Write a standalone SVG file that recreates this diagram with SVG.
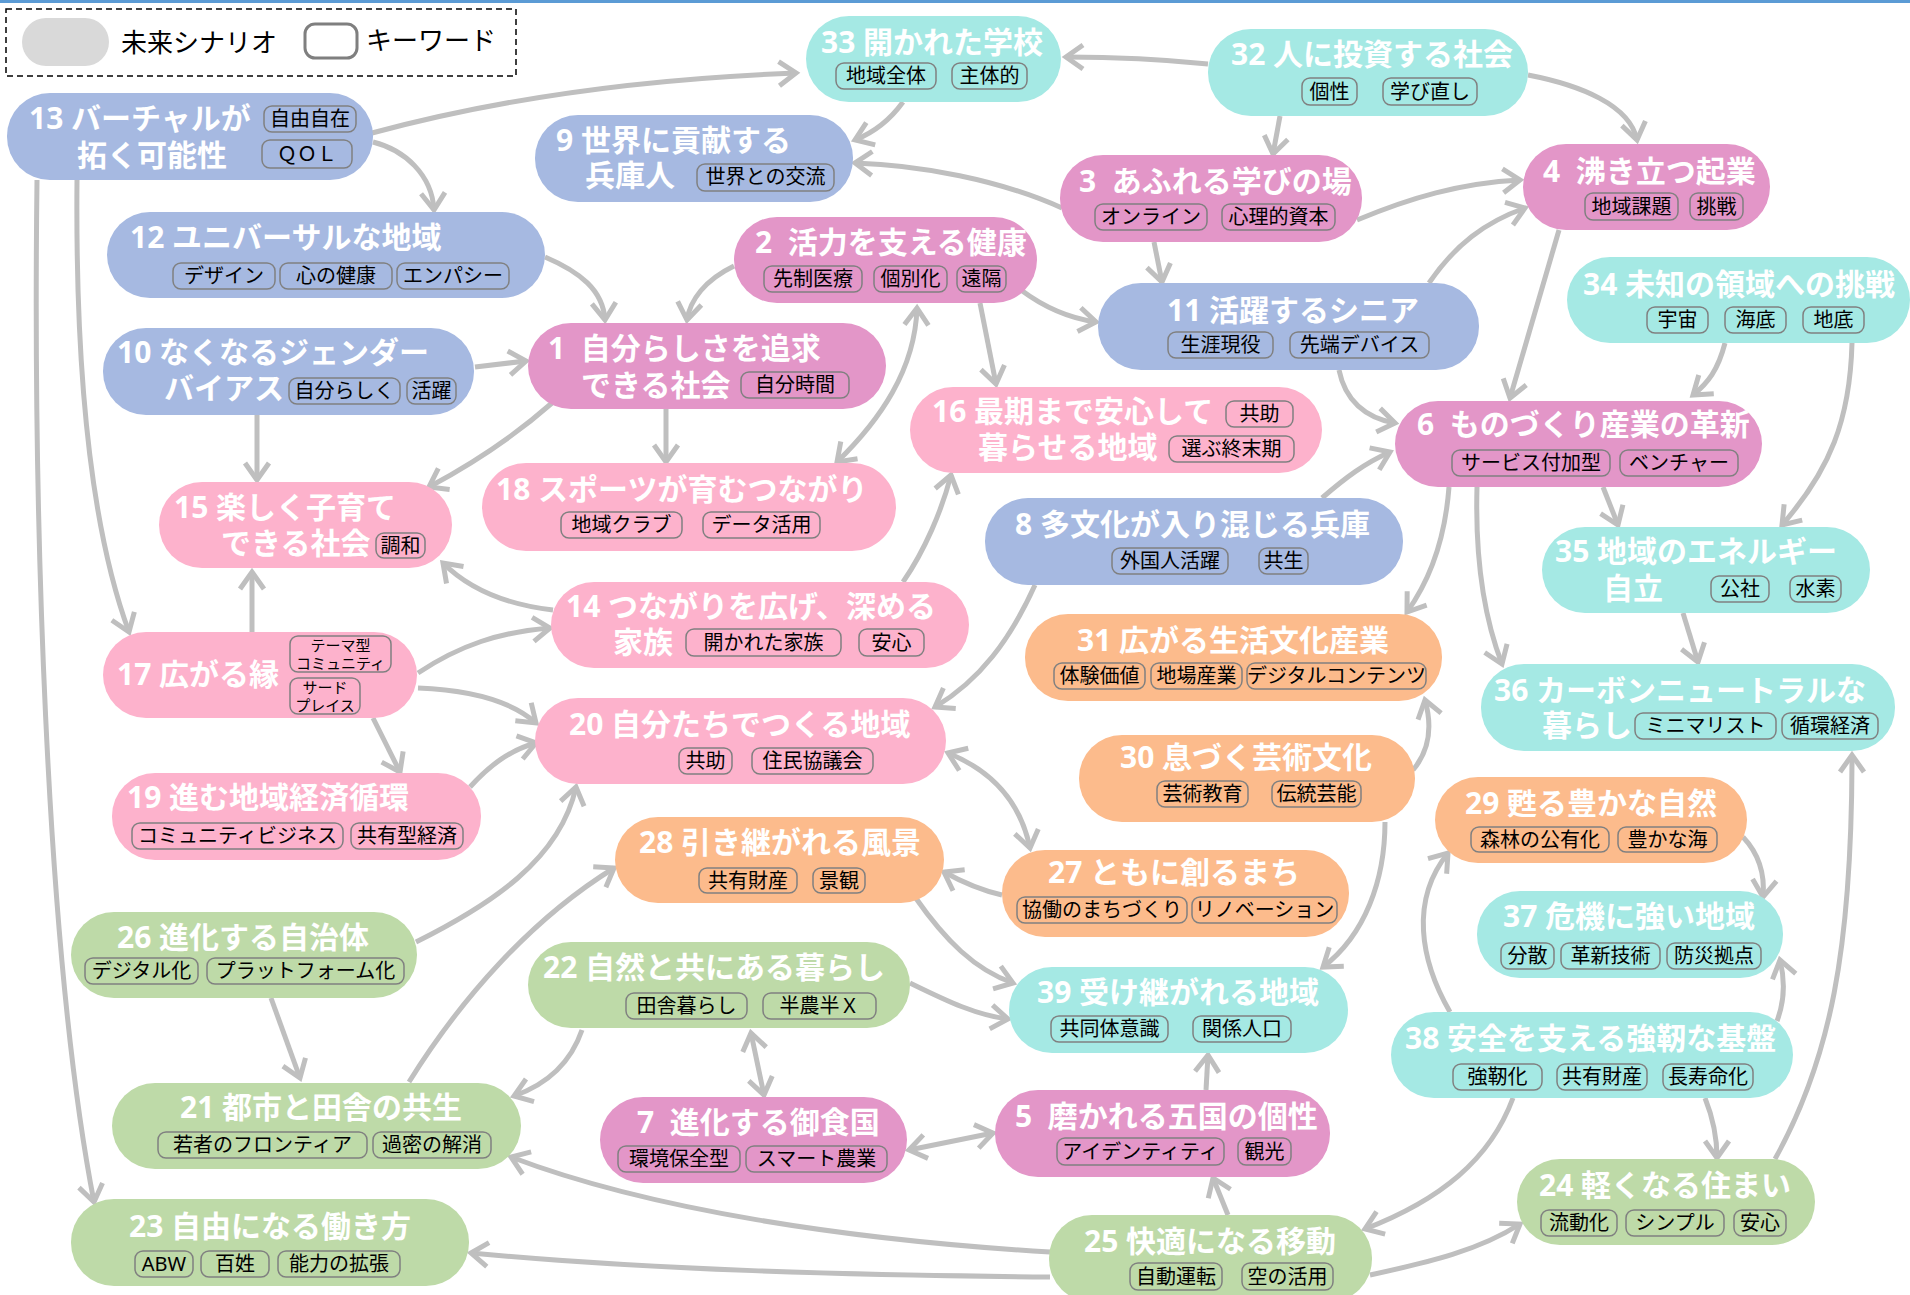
<svg xmlns="http://www.w3.org/2000/svg" width="1910" height="1295" viewBox="0 0 1910 1295">
<style>
.t{font-family:"Noto Sans","Noto Sans CJK JP",sans-serif;font-weight:700;font-size:30px;fill:#fff}
.k{font-family:"Noto Sans","Noto Sans CJK JP",sans-serif;font-size:20px;fill:#000;text-anchor:middle}
.ks{font-family:"Noto Sans","Noto Sans CJK JP",sans-serif;font-size:15px;fill:#000;text-anchor:middle}
.lg{font-family:"Noto Sans","Noto Sans CJK JP",sans-serif;font-size:26px;fill:#000}
.kb{fill:none;stroke:#808080;stroke-width:1.5}
.bl{fill:#a6b9e1}.mg{fill:#e396c8}.pk{fill:#fdb2cc}.or{fill:#fcbb8c}.tl{fill:#a5e9e4}.gr{fill:#bedaa8}
#connectors path{fill:none;stroke:#bfbfbf;stroke-width:5;marker-end:url(#ah)}
#connectors path.bi{marker-start:url(#ah)}
</style>
<defs>
<marker id="ah" viewBox="0 0 30 30" refX="25" refY="15" markerWidth="30" markerHeight="30" markerUnits="userSpaceOnUse" orient="auto-start-reverse" overflow="visible">
<path d="M8,3 L25,15 L8,27" fill="none" stroke="#bfbfbf" stroke-width="5"/>
</marker>
</defs>
<rect x="0" y="0" width="1910" height="1295" fill="#fff"/>
<rect x="0" y="0" width="1910" height="3" fill="#5b9bd5"/>
<g id="legend">
<rect x="6" y="9" width="510" height="67" fill="none" stroke="#000" stroke-width="1.5" stroke-dasharray="6 4"/>
<rect x="22" y="18" width="87" height="48" rx="24" fill="#d9d9d9"/>
<text x="121" y="52" class="lg">未来シナリオ</text>
<rect x="305" y="24" width="52" height="34" rx="10" fill="#fff" stroke="#7f7f7f" stroke-width="3"/>
<text x="366" y="50" class="lg">キーワード</text>
</g>
<g id="connectors">
<path d="M372,133 Q560,82 796,73"/>
<path d="M373,142 C405,150 432,175 434,210"/>
<path d="M77,180 C75,400 95,540 129,632"/>
<path d="M37,180 C33,500 45,950 94,1202"/>
<path d="M545,257 C580,272 603,290 605,320"/>
<path d="M475,367 L526,361"/>
<path d="M257,415 L257,480"/>
<path d="M552,403 C510,440 470,465 429,487"/>
<path d="M734,266 C705,280 690,300 687,320"/>
<path class="bi" d="M837,462 C880,420 915,370 917,308"/>
<path d="M980,303 L996,384"/>
<path d="M666,409 L666,462"/>
<path d="M903,102 C890,120 875,132 855,140"/>
<path d="M1062,208 C1000,180 920,165 855,163"/>
<path d="M1208,64 C1150,58 1110,57 1066,57"/>
<path d="M1280,116 L1273,154"/>
<path d="M1528,75 C1580,85 1630,105 1637,140"/>
<path d="M1154,242 L1162,282"/>
<path d="M1357,220 C1410,198 1460,183 1520,180"/>
<path d="M1429,283 C1455,245 1485,222 1525,208"/>
<path d="M1021,290 C1045,308 1068,318 1096,322"/>
<path d="M1339,370 C1345,400 1365,418 1395,423"/>
<path d="M1559,230 L1510,398"/>
<path d="M1725,343 C1718,370 1708,383 1693,395"/>
<path d="M1852,343 C1850,420 1830,470 1782,525"/>
<path d="M1603,487 L1618,525"/>
<path d="M1449,487 C1445,540 1430,580 1407,612"/>
<path d="M1477,487 C1475,560 1485,620 1502,664"/>
<path d="M1683,613 L1698,662"/>
<path d="M1775,1159 C1830,1060 1852,950 1852,755"/>
<path d="M1322,498 C1345,478 1365,463 1390,452"/>
<path d="M903,582 C925,550 942,510 951,475"/>
<path d="M1035,585 C1010,640 980,680 935,707"/>
<path class="bi" d="M948,753 C990,770 1020,800 1030,848"/>
<path d="M1413,770 C1430,750 1432,725 1425,700"/>
<path d="M1385,822 C1385,880 1365,935 1323,967"/>
<path d="M553,610 C510,605 470,590 443,563"/>
<path d="M252,632 L252,572"/>
<path d="M418,673 C460,645 500,632 550,628"/>
<path d="M418,688 C470,690 510,700 536,723"/>
<path d="M373,718 L400,772"/>
<path d="M470,787 C490,765 510,750 536,743"/>
<path d="M416,942 C490,905 560,860 576,787"/>
<path d="M271,998 L300,1078"/>
<path d="M409,1082 C460,1000 530,920 614,868"/>
<path d="M582,1030 C570,1065 545,1085 514,1096"/>
<path class="bi" d="M751,1033 L764,1095"/>
<path class="bi" d="M909,1150 L993,1133"/>
<path d="M915,897 C945,940 975,970 1013,983"/>
<path d="M910,983 C945,1000 975,1015 1008,1019"/>
<path d="M1002,895 C980,890 962,882 944,872"/>
<path d="M1206,1090 L1208,1055"/>
<path d="M1228,1215 L1213,1178"/>
<path d="M1050,1252 C850,1240 650,1210 511,1157"/>
<path d="M1050,1277 C850,1275 650,1270 471,1253"/>
<path d="M1513,1098 C1490,1160 1440,1200 1365,1229"/>
<path d="M1370,1275 C1430,1262 1480,1250 1520,1224"/>
<path d="M1450,1012 C1420,960 1410,900 1448,853"/>
<path d="M1743,837 C1760,855 1765,875 1763,897"/>
<path d="M1777,1021 C1785,1000 1785,980 1780,960"/>
<path d="M1705,1098 C1713,1118 1717,1135 1717,1158"/>
</g>

<g id="n13"><rect class="bl" x="7" y="93" width="366" height="87" rx="43"/><text class="t" x="29" y="129">13 バーチャルが</text><text class="t" x="77" y="166">拓く可能性</text>
<rect class="kb" x="264" y="106" width="92" height="26" rx="8"/><text class="k" x="310" y="126">自由自在</text>
<rect class="kb" x="262" y="140" width="90" height="28" rx="8"/><text class="k" x="307" y="161">ＱＯＬ</text></g>

<g id="n12"><rect class="bl" x="107" y="212" width="438" height="86" rx="43"/><text class="t" x="130" y="248">12 ユニバーサルな地域</text>
<rect class="kb" x="173" y="263" width="102" height="26" rx="8"/><text class="k" x="224" y="283">デザイン</text>
<rect class="kb" x="280" y="263" width="112" height="26" rx="8"/><text class="k" x="336" y="283">心の健康</text>
<rect class="kb" x="397" y="263" width="112" height="26" rx="8"/><text class="k" x="453" y="283">エンパシー</text></g>

<g id="n10"><rect class="bl" x="103" y="328" width="371" height="87" rx="43"/><text class="t" x="117" y="363">10 なくなるジェンダー</text><text class="t" x="164" y="399">バイアス</text>
<rect class="kb" x="289" y="378" width="111" height="26" rx="8"/><text class="k" x="344.5" y="398">自分らしく</text>
<rect class="kb" x="407" y="378" width="49" height="26" rx="8"/><text class="k" x="431.5" y="398">活躍</text></g>

<g id="n9"><rect class="bl" x="535" y="115" width="318" height="87" rx="43"/><text class="t" x="556" y="151">9 世界に貢献する</text><text class="t" x="585" y="186">兵庫人</text>
<rect class="kb" x="697" y="164" width="137" height="27" rx="8"/><text class="k" x="765.5" y="184">世界との交流</text></g>

<g id="n11"><rect class="bl" x="1098" y="283" width="381" height="87" rx="43"/><text class="t" x="1167" y="321">11 活躍するシニア</text>
<rect class="kb" x="1168" y="332" width="105" height="26" rx="8"/><text class="k" x="1220.5" y="352">生涯現役</text>
<rect class="kb" x="1290" y="332" width="139" height="26" rx="8"/><text class="k" x="1359.5" y="352">先端デバイス</text></g>

<g id="n8"><rect class="bl" x="985" y="498" width="418" height="87" rx="43"/><text class="t" x="1015" y="535">8 多文化が入り混じる兵庫</text>
<rect class="kb" x="1112" y="548" width="116" height="26" rx="8"/><text class="k" x="1170" y="568">外国人活躍</text>
<rect class="kb" x="1259" y="548" width="49" height="26" rx="8"/><text class="k" x="1283.5" y="568">共生</text></g>

<g id="n1"><rect class="mg" x="528" y="323" width="358" height="86" rx="43"/><text class="t" x="548" y="359" xml:space="preserve">1  自分らしさを追求</text><text class="t" x="581" y="396">できる社会</text>
<rect class="kb" x="741" y="372" width="108" height="26" rx="8"/><text class="k" x="795" y="392">自分時間</text></g>

<g id="n2"><rect class="mg" x="734" y="217" width="303" height="86" rx="43"/><text class="t" x="755" y="253" xml:space="preserve">2  活力を支える健康</text>
<rect class="kb" x="764" y="266" width="98" height="26" rx="8"/><text class="k" x="813" y="286">先制医療</text>
<rect class="kb" x="874" y="266" width="73" height="26" rx="8"/><text class="k" x="910.5" y="286">個別化</text>
<rect class="kb" x="957" y="266" width="49" height="26" rx="8"/><text class="k" x="981.5" y="286">遠隔</text></g>

<g id="n3"><rect class="mg" x="1060" y="155" width="302" height="87" rx="43"/><text class="t" x="1079" y="192" xml:space="preserve">3  あふれる学びの場</text>
<rect class="kb" x="1095" y="204" width="112" height="26" rx="8"/><text class="k" x="1151" y="224">オンライン</text>
<rect class="kb" x="1222" y="204" width="113" height="26" rx="8"/><text class="k" x="1278.5" y="224">心理的資本</text></g>

<g id="n4"><rect class="mg" x="1523" y="144" width="247" height="86" rx="43"/><text class="t" x="1543" y="182" xml:space="preserve">4  沸き立つ起業</text>
<rect class="kb" x="1585" y="193" width="93" height="27" rx="8"/><text class="k" x="1631.5" y="213.5">地域課題</text>
<rect class="kb" x="1690" y="193" width="53" height="27" rx="8"/><text class="k" x="1716.5" y="213.5">挑戦</text></g>

<g id="n6"><rect class="mg" x="1395" y="401" width="367" height="86" rx="43"/><text class="t" x="1417" y="435" xml:space="preserve">6  ものづくり産業の革新</text>
<rect class="kb" x="1452" y="450" width="158" height="26" rx="8"/><text class="k" x="1531" y="470">サービス付加型</text>
<rect class="kb" x="1620" y="450" width="118" height="26" rx="8"/><text class="k" x="1679" y="470">ベンチャー</text></g>

<g id="n5"><rect class="mg" x="995" y="1090" width="335" height="87" rx="43"/><text class="t" x="1015" y="1127" xml:space="preserve">5  磨かれる五国の個性</text>
<rect class="kb" x="1057" y="1138" width="167" height="27" rx="8"/><text class="k" x="1140.5" y="1158.5">アイデンティティ</text>
<rect class="kb" x="1238" y="1138" width="53" height="27" rx="8"/><text class="k" x="1264.5" y="1158.5">観光</text></g>

<g id="n7"><rect class="mg" x="600" y="1097" width="307" height="86" rx="43"/><text class="t" x="637" y="1133" xml:space="preserve">7  進化する御食国</text>
<rect class="kb" x="618" y="1146" width="122" height="26" rx="8"/><text class="k" x="679" y="1166">環境保全型</text>
<rect class="kb" x="746" y="1146" width="141" height="26" rx="8"/><text class="k" x="816.5" y="1166">スマート農業</text></g>

<g id="n15"><rect class="pk" x="159" y="482" width="293" height="86" rx="43"/><text class="t" x="174" y="518">15 楽しく子育て</text><text class="t" x="221" y="554">できる社会</text>
<rect class="kb" x="376" y="533" width="49" height="25" rx="8"/><text class="k" x="400.5" y="552.5">調和</text></g>

<g id="n17"><rect class="pk" x="103" y="632" width="314" height="86" rx="43"/><text class="t" x="117" y="685">17 広がる縁</text>
<rect class="kb" x="290" y="636" width="101" height="36" rx="8"/><text class="ks" x="340.5" y="651">テーマ型</text><text class="ks" x="340.5" y="669">コミュニティ</text>
<rect class="kb" x="290" y="678" width="70" height="36" rx="8"/><text class="ks" x="325" y="693">サード</text><text class="ks" x="325" y="711">プレイス</text></g>

<g id="n18"><rect class="pk" x="482" y="463" width="414" height="88" rx="44"/><text class="t" x="496" y="500">18 スポーツが育むつながり</text>
<rect class="kb" x="561" y="512" width="121" height="26" rx="8"/><text class="k" x="621.5" y="532">地域クラブ</text>
<rect class="kb" x="703" y="512" width="117" height="26" rx="8"/><text class="k" x="761.5" y="532">データ活用</text></g>

<g id="n14"><rect class="pk" x="551" y="582" width="418" height="86" rx="43"/><text class="t" x="566" y="617">14 つながりを広げ、深める</text><text class="t" x="613" y="653">家族</text>
<rect class="kb" x="686" y="629" width="155" height="27" rx="8"/><text class="k" x="763.5" y="649.5">開かれた家族</text>
<rect class="kb" x="859" y="629" width="65" height="27" rx="8"/><text class="k" x="891.5" y="649.5">安心</text></g>

<g id="n20"><rect class="pk" x="535" y="698" width="411" height="86" rx="43"/><text class="t" x="569" y="735">20 自分たちでつくる地域</text>
<rect class="kb" x="679" y="748" width="53" height="26" rx="8"/><text class="k" x="705.5" y="768">共助</text>
<rect class="kb" x="752" y="748" width="121" height="26" rx="8"/><text class="k" x="812.5" y="768">住民協議会</text></g>

<g id="n16"><rect class="pk" x="910" y="387" width="412" height="86" rx="43"/><text class="t" x="932" y="422">16 最期まで安心して</text><text class="t" x="978" y="458">暮らせる地域</text>
<rect class="kb" x="1226" y="401" width="67" height="26" rx="8"/><text class="k" x="1259.5" y="421">共助</text>
<rect class="kb" x="1169" y="436" width="125" height="26" rx="8"/><text class="k" x="1231.5" y="456">選ぶ終末期</text></g>

<g id="n19"><rect class="pk" x="112" y="773" width="369" height="87" rx="43"/><text class="t" x="127" y="808">19 進む地域経済循環</text>
<rect class="kb" x="132" y="823" width="211" height="26" rx="8"/><text class="k" x="237.5" y="843">コミュニティビジネス</text>
<rect class="kb" x="351" y="823" width="112" height="26" rx="8"/><text class="k" x="407" y="843">共有型経済</text></g>

<g id="n31"><rect class="or" x="1025" y="614" width="417" height="87" rx="43"/><text class="t" x="1077" y="651">31 広がる生活文化産業</text>
<rect class="kb" x="1054" y="663" width="91" height="26" rx="8"/><text class="k" x="1099.5" y="683">体験価値</text>
<rect class="kb" x="1151" y="663" width="91" height="26" rx="8"/><text class="k" x="1196.5" y="683">地場産業</text>
<rect class="kb" x="1247" y="663" width="179" height="26" rx="8"/><text class="k" x="1336.5" y="683">デジタルコンテンツ</text></g>

<g id="n30"><rect class="or" x="1079" y="735" width="336" height="87" rx="43"/><text class="t" x="1120" y="768">30 息づく芸術文化</text>
<rect class="kb" x="1157" y="781" width="91" height="26" rx="8"/><text class="k" x="1202.5" y="801">芸術教育</text>
<rect class="kb" x="1272" y="781" width="89" height="26" rx="8"/><text class="k" x="1316.5" y="801">伝統芸能</text></g>

<g id="n28"><rect class="or" x="615" y="817" width="329" height="86" rx="43"/><text class="t" x="639" y="853">28 引き継がれる風景</text>
<rect class="kb" x="699" y="868" width="98" height="25" rx="8"/><text class="k" x="748" y="887.5">共有財産</text>
<rect class="kb" x="813" y="868" width="52" height="25" rx="8"/><text class="k" x="839" y="887.5">景観</text></g>

<g id="n27"><rect class="or" x="1002" y="850" width="347" height="87" rx="43"/><text class="t" x="1048" y="883">27 ともに創るまち</text>
<rect class="kb" x="1017" y="897" width="170" height="26" rx="8"/><text class="k" x="1102" y="917">協働のまちづくり</text>
<rect class="kb" x="1192" y="897" width="145" height="26" rx="8"/><text class="k" x="1264.5" y="917">リノベーション</text></g>

<g id="n29"><rect class="or" x="1435" y="777" width="312" height="86" rx="43"/><text class="t" x="1465" y="814">29 甦る豊かな自然</text>
<rect class="kb" x="1471" y="827" width="138" height="25" rx="8"/><text class="k" x="1540" y="846.5">森林の公有化</text>
<rect class="kb" x="1618" y="827" width="99" height="25" rx="8"/><text class="k" x="1667.5" y="846.5">豊かな海</text></g>

<g id="n33"><rect class="tl" x="806" y="16" width="255" height="86" rx="43"/><text class="t" x="821" y="53">33 開かれた学校</text>
<rect class="kb" x="836" y="63" width="100" height="26" rx="8"/><text class="k" x="886" y="83">地域全体</text>
<rect class="kb" x="952" y="63" width="75" height="26" rx="8"/><text class="k" x="989.5" y="83">主体的</text></g>

<g id="n32"><rect class="tl" x="1208" y="29" width="320" height="87" rx="43"/><text class="t" x="1231" y="65">32 人に投資する社会</text>
<rect class="kb" x="1302" y="78" width="55" height="27" rx="8"/><text class="k" x="1329.5" y="98.5">個性</text>
<rect class="kb" x="1383" y="78" width="94" height="27" rx="8"/><text class="k" x="1430" y="98.5">学び直し</text></g>

<g id="n34"><rect class="tl" x="1567" y="257" width="343" height="86" rx="43"/><text class="t" x="1583" y="295">34 未知の領域への挑戦</text>
<rect class="kb" x="1647" y="307" width="61" height="26" rx="8"/><text class="k" x="1677.5" y="327">宇宙</text>
<rect class="kb" x="1725" y="307" width="61" height="26" rx="8"/><text class="k" x="1755.5" y="327">海底</text>
<rect class="kb" x="1803" y="307" width="61" height="26" rx="8"/><text class="k" x="1833.5" y="327">地底</text></g>

<g id="n35"><rect class="tl" x="1542" y="527" width="328" height="86" rx="43"/><text class="t" x="1555" y="562">35 地域のエネルギー</text><text class="t" x="1603" y="599">自立</text>
<rect class="kb" x="1711" y="576" width="58" height="26" rx="8"/><text class="k" x="1740" y="596">公社</text>
<rect class="kb" x="1790" y="576" width="51" height="26" rx="8"/><text class="k" x="1815.5" y="596">水素</text></g>

<g id="n36"><rect class="tl" x="1481" y="664" width="414" height="87" rx="43"/><text class="t" x="1494" y="701">36 カーボンニュートラルな</text><text class="t" x="1542" y="736">暮らし</text>
<rect class="kb" x="1635" y="713" width="141" height="26" rx="8"/><text class="k" x="1705.5" y="733">ミニマリスト</text>
<rect class="kb" x="1782" y="713" width="96" height="26" rx="8"/><text class="k" x="1830" y="733">循環経済</text></g>

<g id="n39"><rect class="tl" x="1009" y="967" width="339" height="86" rx="43"/><text class="t" x="1037" y="1003">39 受け継がれる地域</text>
<rect class="kb" x="1051" y="1016" width="117" height="26" rx="8"/><text class="k" x="1109.5" y="1036">共同体意識</text>
<rect class="kb" x="1193" y="1016" width="98" height="26" rx="8"/><text class="k" x="1242" y="1036">関係人口</text></g>

<g id="n37"><rect class="tl" x="1477" y="891" width="306" height="87" rx="43"/><text class="t" x="1503" y="927">37 危機に強い地域</text>
<rect class="kb" x="1501" y="943" width="53" height="26" rx="8"/><text class="k" x="1527.5" y="963">分散</text>
<rect class="kb" x="1561" y="943" width="99" height="26" rx="8"/><text class="k" x="1610.5" y="963">革新技術</text>
<rect class="kb" x="1667" y="943" width="94" height="26" rx="8"/><text class="k" x="1714" y="963">防災拠点</text></g>

<g id="n38"><rect class="tl" x="1391" y="1012" width="402" height="86" rx="43"/><text class="t" x="1405" y="1049">38 安全を支える強靭な基盤</text>
<rect class="kb" x="1453" y="1064" width="89" height="26" rx="8"/><text class="k" x="1497.5" y="1084">強靭化</text>
<rect class="kb" x="1557" y="1064" width="90" height="26" rx="8"/><text class="k" x="1602" y="1084">共有財産</text>
<rect class="kb" x="1663" y="1064" width="90" height="26" rx="8"/><text class="k" x="1708" y="1084">長寿命化</text></g>

<g id="n26"><rect class="gr" x="71" y="912" width="346" height="86" rx="43"/><text class="t" x="117" y="948">26 進化する自治体</text>
<rect class="kb" x="85" y="958" width="113" height="26" rx="8"/><text class="k" x="141.5" y="978">デジタル化</text>
<rect class="kb" x="207" y="958" width="197" height="26" rx="8"/><text class="k" x="305.5" y="978">プラットフォーム化</text></g>

<g id="n21"><rect class="gr" x="112" y="1083" width="409" height="86" rx="43"/><text class="t" x="180" y="1118">21 都市と田舎の共生</text>
<rect class="kb" x="158" y="1132" width="209" height="26" rx="8"/><text class="k" x="262.5" y="1152">若者のフロンティア</text>
<rect class="kb" x="373" y="1132" width="118" height="26" rx="8"/><text class="k" x="432" y="1152">過密の解消</text></g>

<g id="n23"><rect class="gr" x="71" y="1199" width="398" height="87" rx="43"/><text class="t" x="129" y="1237">23 自由になる働き方</text>
<rect class="kb" x="135" y="1251" width="58" height="26" rx="8"/><text class="k" x="164" y="1271">ABW</text>
<rect class="kb" x="201" y="1251" width="68" height="26" rx="8"/><text class="k" x="235" y="1271">百姓</text>
<rect class="kb" x="278" y="1251" width="122" height="26" rx="8"/><text class="k" x="339" y="1271">能力の拡張</text></g>

<g id="n22"><rect class="gr" x="528" y="942" width="382" height="86" rx="43"/><text class="t" x="543" y="978">22 自然と共にある暮らし</text>
<rect class="kb" x="626" y="993" width="121" height="26" rx="8"/><text class="k" x="686.5" y="1013">田舎暮らし</text>
<rect class="kb" x="763" y="993" width="113" height="26" rx="8"/><text class="k" x="819.5" y="1013">半農半Ｘ</text></g>

<g id="n25"><rect class="gr" x="1049" y="1215" width="323" height="87" rx="43"/><text class="t" x="1084" y="1252">25 快適になる移動</text>
<rect class="kb" x="1130" y="1263" width="92" height="27" rx="8"/><text class="k" x="1176" y="1283.5">自動運転</text>
<rect class="kb" x="1242" y="1263" width="91" height="27" rx="8"/><text class="k" x="1287.5" y="1283.5">空の活用</text></g>

<g id="n24"><rect class="gr" x="1517" y="1159" width="298" height="86" rx="43"/><text class="t" x="1539" y="1196">24 軽くなる住まい</text>
<rect class="kb" x="1541" y="1210" width="76" height="26" rx="8"/><text class="k" x="1579" y="1230">流動化</text>
<rect class="kb" x="1626" y="1210" width="98" height="26" rx="8"/><text class="k" x="1675" y="1230">シンプル</text>
<rect class="kb" x="1734" y="1210" width="52" height="26" rx="8"/><text class="k" x="1760" y="1230">安心</text></g>
</svg>
